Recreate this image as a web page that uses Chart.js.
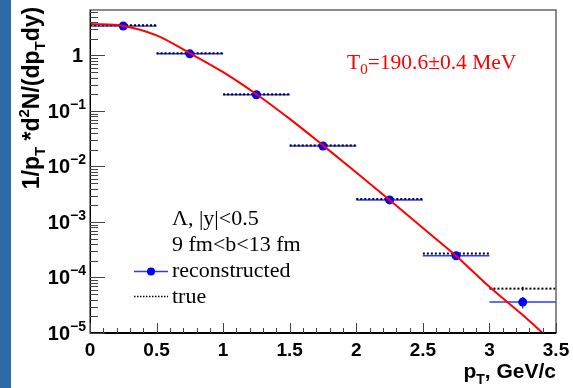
<!DOCTYPE html>
<html>
<head>
<meta charset="utf-8">
<script src="https://cdn.jsdelivr.net/npm/chart.js@4"></script>
<style>
  html, body { margin: 0; padding: 0; background: #fff; }
  #wrap { position: relative; width: 573px; height: 388px; }
</style>
</head>
<body>
<div id="wrap"><canvas id="spectrum" width="573" height="388"></canvas></div>
<script>
// Lambda pT spectrum, reconstructed vs true, with blast-wave style fit

// bin centres (GeV/c) and half widths
const binCenters = [0.25, 0.75, 1.25, 1.75, 2.25, 2.75, 3.25];
const binHalf = 0.25;

// reconstructed points + y errors
const recoValues = [3.4, 1.07, 0.196, 0.0234, 0.0025, 0.000247, 0.0000360];
const recoErrors = [0.03, 0.008, 0.0015, 0.0002, 0.00003, 0.000006, 0.0000085];

// true (generated) histogram + y errors
const trueValues = [3.5, 1.1, 0.2, 0.024, 0.0026, 0.00027, 0.000063];
const trueErrors = [0.02, 0.005, 0.001, 0.0001, 0.00002, 0.000003, 0.000005];

// fit curve
const fitPt = [0, 0.25, 0.5, 0.75, 1.0, 1.25, 1.5, 1.75, 2.0, 2.25, 2.5, 2.75, 3.0, 3.25, 3.4];
const fitValues = [3.7, 3.4, 2.3, 1.1, 0.5, 0.2, 0.072, 0.024, 0.0078, 0.0025, 0.00078, 0.000245, 0.000068, 0.000021, 0.00001];

// axis ticks
const xTickValues = [0, 0.5, 1, 1.5, 2, 2.5, 3, 3.5];
const xTickLabels = ['0', '0.5', '1', '1.5', '2', '2.5', '3', '3.5'];
const yTickExponents = [0, -1, -2, -3, -4, -5];

const SANS = '"Liberation Sans", Arial, sans-serif';
const SERIF = '"Liberation Serif", "Times New Roman", serif';

// draw a run of text pieces with sub/superscripts
function drawRich(ctx, parts, x, y, align) {
    let total = 0;
    parts.forEach(p => {
        ctx.font = p.font;
        p.w = ctx.measureText(p.t).width;
        total += p.w;
    });
    let cx = x;
    if (align === 'right') cx = x - total;
    else if (align === 'center') cx = x - total / 2;
    ctx.textAlign = 'left';
    ctx.textBaseline = 'alphabetic';
    parts.forEach(p => {
        ctx.font = p.font;
        ctx.fillText(p.t, cx, y + (p.dy || 0));
        cx += p.w;
    });
}

const rootStyle = {
    id: 'rootStyle',
    beforeDraw(chart) {
        const ctx = chart.ctx;
        ctx.save();
        ctx.fillStyle = '#fff';
        ctx.fillRect(0, 0, chart.width, chart.height);
        // blue strip on the left edge
        ctx.fillStyle = '#2c6ba8';
        ctx.fillRect(0, 0, 11, chart.height);
        ctx.restore();
    },
    beforeDatasetsDraw(chart) {
        const ctx = chart.ctx;
        const xs = chart.scales.x, ys = chart.scales.y;
        ctx.save();
        // reconstructed error bars (blue)
        ctx.strokeStyle = '#2a3cff';
        ctx.lineWidth = 1.5;
        binCenters.forEach((c, i) => {
            const y = ys.getPixelForValue(recoValues[i]);
            const x = xs.getPixelForValue(c);
            ctx.beginPath();
            ctx.moveTo(xs.getPixelForValue(c - binHalf), y);
            ctx.lineTo(xs.getPixelForValue(c + binHalf), y);
            ctx.moveTo(x, ys.getPixelForValue(recoValues[i] + recoErrors[i]));
            ctx.lineTo(x, ys.getPixelForValue(recoValues[i] - recoErrors[i]));
            ctx.stroke();
        });
        // true values (black dotted)
        ctx.strokeStyle = '#000';
        ctx.lineWidth = 2;
        binCenters.forEach((c, i) => {
            const y = ys.getPixelForValue(trueValues[i]);
            const x = xs.getPixelForValue(c);
            ctx.setLineDash([2, 2]);
            ctx.beginPath();
            ctx.moveTo(xs.getPixelForValue(c - binHalf), y);
            ctx.lineTo(xs.getPixelForValue(c + binHalf), y);
            ctx.stroke();
            ctx.setLineDash([]);
            ctx.lineWidth = 1.5;
            ctx.beginPath();
            ctx.moveTo(x, ys.getPixelForValue(trueValues[i] + trueErrors[i]));
            ctx.lineTo(x, ys.getPixelForValue(trueValues[i] - trueErrors[i]));
            ctx.stroke();
            ctx.lineWidth = 2;
        });
        ctx.restore();
    },
    afterDraw(chart) {
        const ctx = chart.ctx;
        const xs = chart.scales.x, ys = chart.scales.y;
        const a = chart.chartArea;
        ctx.save();

        // frame
        ctx.strokeStyle = '#666';
        ctx.lineWidth = 1.5;
        ctx.strokeRect(a.left, a.top, a.right - a.left, a.bottom - a.top);
        ctx.strokeStyle = '#000';
        ctx.lineWidth = 2;
        ctx.beginPath();
        ctx.moveTo(a.left, a.bottom);
        ctx.lineTo(a.right, a.bottom);
        ctx.stroke();
        ctx.lineWidth = 1;
        ctx.beginPath();
        ctx.moveTo(a.left + 0.5, a.top);
        ctx.lineTo(a.left + 0.5, a.bottom);
        ctx.stroke();

        // x ticks
        ctx.strokeStyle = '#444';
        ctx.lineWidth = 1;
        for (let k = 0; k <= 35; k++) {
            const px = Math.round(xs.getPixelForValue(k / 10)) + 0.5;
            const len = (k % 5 === 0) ? 10 : 5;
            ctx.beginPath();
            ctx.moveTo(px, a.bottom);
            ctx.lineTo(px, a.bottom - len);
            ctx.stroke();
        }
        // y ticks
        for (let e = -5; e <= 0; e++) {
            for (let m = 1; m <= 9; m++) {
                const v = m * Math.pow(10, e);
                if (v > ys.max) break;
                const py = Math.round(ys.getPixelForValue(v)) + 0.5;
                const len = (m === 1) ? 15 : 8;
                ctx.beginPath();
                ctx.moveTo(a.left, py);
                ctx.lineTo(a.left + len, py);
                ctx.stroke();
            }
        }

        // x tick labels
        ctx.fillStyle = '#000';
        ctx.font = 'bold 19px ' + SANS;
        ctx.textAlign = 'center';
        ctx.textBaseline = 'alphabetic';
        xTickValues.forEach((v, i) => {
            ctx.fillText(xTickLabels[i], xs.getPixelForValue(v), 356);
        });

        // y tick labels
        yTickExponents.forEach(e => {
            const py = ys.getPixelForValue(Math.pow(10, e));
            if (e === 0) {
                drawRich(ctx, [{ t: '1', font: 'bold 20px ' + SANS }], 83, py + 7, 'right');
            } else {
                drawRich(ctx, [
                    { t: '10', font: 'bold 20px ' + SANS },
                    { t: '\u2212' + (-e), font: 'bold 14px ' + SANS, dy: -9 }
                ], 86, py + 7, 'right');
            }
        });

        // axis titles
        let big = 'bold 21px ' + SANS, small = 'bold 14px ' + SANS;
        drawRich(ctx, [
            { t: 'p', font: big },
            { t: 'T', font: small, dy: 6 },
            { t: ', GeV/c', font: big }
        ], 556, 378, 'right');

        big = 'bold 23px ' + SANS;
        small = 'bold 15px ' + SANS;
        ctx.save();
        ctx.translate(39, 98);
        ctx.rotate(-Math.PI / 2);
        drawRich(ctx, [
            { t: '1/p', font: big },
            { t: 'T', font: small, dy: 6 },
            { t: ' *d', font: big },
            { t: '2', font: small, dy: -10 },
            { t: 'N/(dp', font: big },
            { t: 'T', font: small, dy: 6 },
            { t: 'dy)', font: big }
        ], 0, 0, 'center');
        ctx.restore();

        // fit result
        ctx.fillStyle = '#ff0000';
        drawRich(ctx, [
            { t: 'T', font: '21.5px ' + SERIF },
            { t: '0', font: '15px ' + SERIF, dy: 5 },
            { t: '=190.6\u00b10.4 MeV', font: '21.5px ' + SERIF }
        ], 347, 69, 'left');

        // legend
        ctx.fillStyle = '#000';
        ctx.font = '22px ' + SERIF;
        ctx.textAlign = 'left';
        ctx.fillText('\u039b, |y|<0.5', 172, 225);
        ctx.fillText('9 fm<b<13 fm', 172, 251);
        ctx.fillText('reconstructed', 172, 277);
        ctx.fillText('true', 172, 303);
        ctx.strokeStyle = '#2a3cff';
        ctx.lineWidth = 1.5;
        ctx.beginPath();
        ctx.moveTo(134, 271.5);
        ctx.lineTo(168, 271.5);
        ctx.stroke();
        ctx.fillStyle = '#0000ff';
        ctx.beginPath();
        ctx.arc(151, 271.5, 4, 0, Math.PI * 2);
        ctx.fill();
        ctx.strokeStyle = '#000';
        ctx.lineWidth = 1.5;
        ctx.setLineDash([1.5, 1.5]);
        ctx.beginPath();
        ctx.moveTo(134, 296.5);
        ctx.lineTo(168, 296.5);
        ctx.stroke();
        ctx.restore();
    }
};

new Chart(document.getElementById('spectrum'), {
    type: 'scatter',
    data: {
        datasets: [
            {
                type: 'line',
                label: 'fit',
                data: fitPt.map((x, i) => ({ x: x, y: fitValues[i] })),
                borderColor: '#ff0000',
                borderWidth: 2,
                pointRadius: 0,
                cubicInterpolationMode: 'monotone',
                fill: false,
                order: 0
            },
            {
                label: 'reconstructed',
                data: binCenters.map((x, i) => ({ x: x, y: recoValues[i] })),
                backgroundColor: '#0000ff',
                borderColor: '#0000ff',
                borderWidth: 0,
                pointRadius: 4.5,
                order: 1
            }
        ]
    },
    options: {
        responsive: false,
        animation: false,
        devicePixelRatio: 1,
        layout: { padding: { left: 90, right: 17, top: 10, bottom: 55 } },
        plugins: { legend: { display: false }, tooltip: { enabled: false } },
        scales: {
            x: { type: 'linear', min: 0, max: 3.5, display: false },
            y: { type: 'logarithmic', min: 0.00001, max: 6.6, display: false }
        }
    },
    plugins: [rootStyle]
});
</script>
</body>
</html>
